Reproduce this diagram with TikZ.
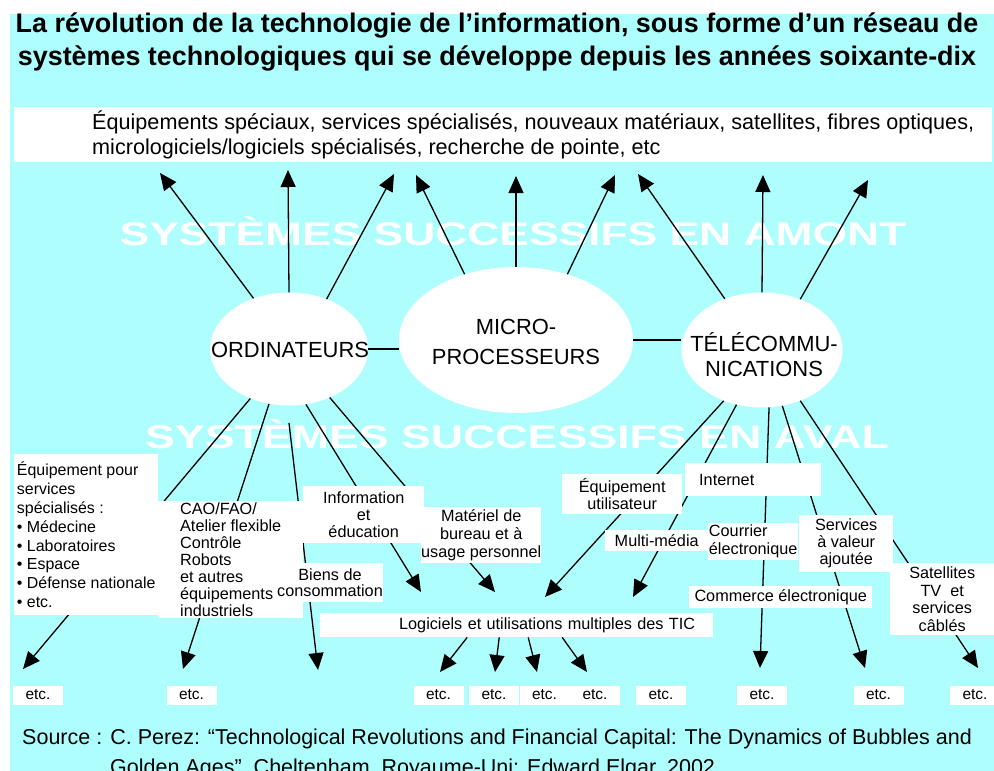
\documentclass[tikz,border=0pt]{standalone}
\usepackage{fontspec}
\setmainfont{Liberation Sans}
\usetikzlibrary{shapes.geometric,arrows.meta}

\definecolor{fond}{RGB}{175,254,254}

\begin{document}
\begin{tikzpicture}[x=1bp,y=-1bp,
  bulle/.style={ellipse,fill=white,inner sep=0pt},
  nom/.style={align=center,inner sep=0pt,font=\fontsize{22}{30}\selectfont},
  boite/.style={fill=white,inner sep=0pt,anchor=north west,align=center,
    font=\fontsize{16.3}{17}\selectfont},
  etc/.style={fill=white,inner sep=0pt,minimum width=50bp,minimum height=19bp,
    font=\fontsize{15.5}{17}\selectfont},
  fleche/.style={line width=1.3bp,-{Triangle[length=17bp,width=15bp]}},
  trait/.style={line width=1.3bp},
  filigrane/.style={text=white,inner sep=0pt,font=\bfseries\fontsize{33}{33}\selectfont}]

  \def \W {994}
  \def \H {771}
  \useasboundingbox (0,0) rectangle (\W,\H);
  \fill[white] (0,0) rectangle (\W,\H);
  \fill[fond] (10,14) rectangle (\W,\H);

  \node[align=center,inner sep=0pt,font=\bfseries\fontsize{27}{33}\selectfont] (titre) at (497,42)
  {La révolution de la technologie de l’information, sous forme d’un réseau de\\
   systèmes technologiques qui se développe depuis les années soixante-dix};

  \node[fill=white,inner sep=0pt,minimum width=978bp,minimum height=55bp,anchor=north west]
  (amont) at (14,107) {};
  \node[anchor=west,align=left,inner sep=0pt,font=\fontsize{21.7}{25}\selectfont] (amonttxt) at (92,135)
  {Équipements spéciaux, services spécialisés, nouveaux matériaux, satellites, fibres optiques,\\
   micrologiciels/logiciels spécialisés, recherche de pointe, etc};

  \node[filigrane] (fil1) at (513,231) {\scalebox{1.35}[1]{SYSTÈMES SUCCESSIFS EN AMONT}};
  \node[filigrane] (fil2) at (517,434) {\scalebox{1.36}[1]{SYSTÈMES SUCCESSIFS EN AVAL}};

  % les trois bulles
  \node[bulle,minimum width=158bp,minimum height=113bp] (ordi) at (289,349) {};
  \node[bulle,minimum width=234bp,minimum height=146bp] (micro) at (516,340) {};
  \node[bulle,minimum width=161bp,minimum height=115bp] (tele) at (762,350) {};
  \node[nom] (orditxt) at (290,350) {ORDINATEURS};
  \node[nom] (microtxt) at (516,342) {MICRO-\\PROCESSEURS};
  \node[nom,font=\fontsize{22}{25}\selectfont] (teletxt) at (764,355) {TÉLÉCOMMU-\\NICATIONS};

  \draw[trait] (ordi.east) -- (ordi.east -| micro.west);
  \draw[trait] (micro.east) -- (micro.east -| tele.west);

  % pointes des fleches
  \coordinate (h1) at (160,173);
  \coordinate (h2) at (288,170);
  \coordinate (h3) at (394,174);
  \coordinate (h4) at (416,175);
  \coordinate (h5) at (516,176);
  \coordinate (h6) at (615,175);
  \coordinate (h7) at (638,174);
  \coordinate (h8) at (763,175);
  \coordinate (h9) at (868,180);
  \coordinate (b1) at (23,669);
  \coordinate (b2) at (183,669);
  \coordinate (b3) at (318,670);
  \coordinate (b4) at (421,592);
  \coordinate (b5) at (495,592);
  \coordinate (b6) at (545,597);
  \coordinate (b7) at (633,597);
  \coordinate (b8) at (760,668);
  \coordinate (b9) at (865,668);
  \coordinate (b10) at (978,668);
  \coordinate (biensdep) at (289,423);
  \coordinate (l1) at (440,672);
  \coordinate (l2) at (495,672);
  \coordinate (l3) at (537,672);
  \coordinate (l4) at (587,672);

  \foreach \a/\t in {125/h1,90/h2,53/h3} \draw[fleche] (ordi.\a) -- (\t);
  \foreach \a/\t in {128/h4,90/h5,52/h6} \draw[fleche] (micro.\a) -- (\t);
  \foreach \a/\t in {126/h7,90/h8,53/h9} \draw[fleche] (tele.\a) -- (\t);
  \foreach \a/\t in {-128/b1,-110/b2,-73/b4,-50/b5} \draw[fleche] (ordi.\a) -- (\t);
  \draw[fleche] (biensdep) -- (b3);
  \foreach \a/\t in {-127/b6,-115/b7,-83/b8,-70/b9,-53/b10} \draw[fleche] (tele.\a) -- (\t);

  % systemes en aval
  \node[boite,minimum width=144bp,minimum height=161bp,align=left,font=\fontsize{16}{19}\selectfont]
  (specialises) at (14,454) {Équipement pour\\services\\spécialisés :\\• Médecine\\• Laboratoires\\• Espace\\• Défense nationale\\• etc.};
  \node[boite,minimum width=145bp,minimum height=117bp,align=left] (cao) at (158,501)
  {CAO/FAO/\\Atelier flexible\\Contrôle\\Robots\\et autres\\équipements\\industriels};
  \node[boite,minimum width=105bp,minimum height=39bp] (biens) at (277,563) {Biens de\\consommation};
  \node[boite,minimum width=121bp,minimum height=57bp] (info) at (303,486) {Information\\et\\éducation};
  \node[boite,minimum width=120bp,minimum height=56bp,font=\fontsize{16.3}{18}\selectfont] (materiel) at (421,507)
  {Matériel de\\bureau et à\\usage personnel};
  \node[boite,minimum width=120bp,minimum height=40bp] (utilisateur) at (562,474) {Équipement\\utilisateur};
  \node[boite,minimum height=33bp,text width=108bp,inner xsep=14bp,align=left] (internet) at (685,463) {Internet};
  \node[boite,minimum width=103bp,minimum height=21bp] (multimedia) at (605,530) {Multi-média};
  \node[boite,minimum width=90bp,minimum height=37bp,align=left,font=\fontsize{16.3}{18}\selectfont] (courrier) at (708,523)
  {Courrier\\électronique};
  \node[boite,minimum width=94bp,minimum height=57bp] (valeur) at (799,515) {Services\\à valeur\\ajoutée};
  \node[boite,minimum width=183bp,minimum height=22bp] (commerce) at (689,586) {Commerce électronique};
  \node[boite,minimum width=104bp,minimum height=72bp,font=\fontsize{16.3}{17.5}\selectfont] (satellites) at (890,563)
  {Satellites\\TV~ et\\services\\câblés};
  \node[boite,minimum width=393bp,text width=357bp,minimum height=24bp,align=right] (tic) at (320,613)
  {Logiciels et utilisations multiples des TIC};

  \foreach \dx/\t in {-49.5/l1,-17.5/l2,11.5/l3,45.5/l4} \draw[fleche] ([xshift=\dx bp]tic.south) -- (\t);

  \foreach \n/\x in {1/38,2/191.5,3/438.5,4/494,5/544.5,6/595,7/661,8/762,9/878.5,10/975}
    \node[etc] (e\n) at (\x,695) {etc.};

  \node[anchor=base west,inner sep=0pt,font=\fontsize{21.6}{24}\selectfont] (source) at (22,744)
  {Source : C. Perez: “Technological Revolutions and Financial Capital: The Dynamics of Bubbles and};
  \node[anchor=base west,inner sep=0pt,font=\fontsize{21.6}{24}\selectfont] (source2) at (110,774)
  {Golden Ages”, Cheltenham, Royaume-Uni: Edward Elgar, 2002};
\end{tikzpicture}
\end{document}
